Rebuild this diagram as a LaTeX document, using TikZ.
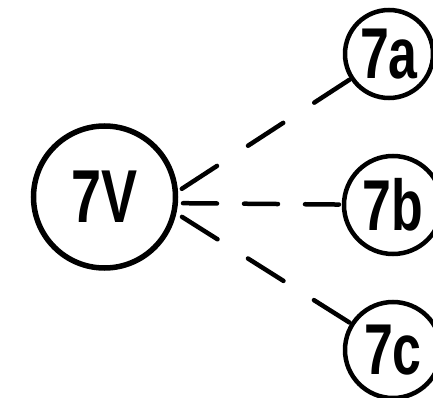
\documentclass[tikz,border=0pt]{standalone}
\usepackage{fontspec}
\newfontfamily\hand[FakeStretch=0.72]{Liberation Sans Bold}
\begin{document}
\begin{tikzpicture}[x=1pt,y=-1pt,
  bignode/.style={circle,draw,line width=5.5pt,minimum size=142pt,inner sep=0pt,
    font=\hand\fontsize{75}{75}\selectfont},
  smallnode/.style={circle,draw,line width=4.5pt,inner sep=0pt,
    font=\hand\fontsize{72}{72}\selectfont},
  conn/.style={line width=4.5pt,line cap=round,shorten <=26pt}]
\useasboundingbox[fill=white] (0,0) rectangle (433,398);
\node[bignode] (v) at (104.5,197) {7V};
\node[smallnode,minimum size=88pt] (a) at (389,54) {7a};
\node[smallnode,minimum size=98pt] (b) at (393,205) {7b};
\node[smallnode,minimum size=96pt] (c) at (393,350) {7c};
\coordinate (hub) at (160,203);
\draw[conn,dash pattern=on 42pt off 37pt] (hub) -- (a);
\draw[conn,dash pattern=on 34pt off 27pt,shorten <=23pt] (hub) -- (b);
\draw[conn,dash pattern=on 42pt off 36pt] (hub) -- (c);
\end{tikzpicture}
\end{document}
